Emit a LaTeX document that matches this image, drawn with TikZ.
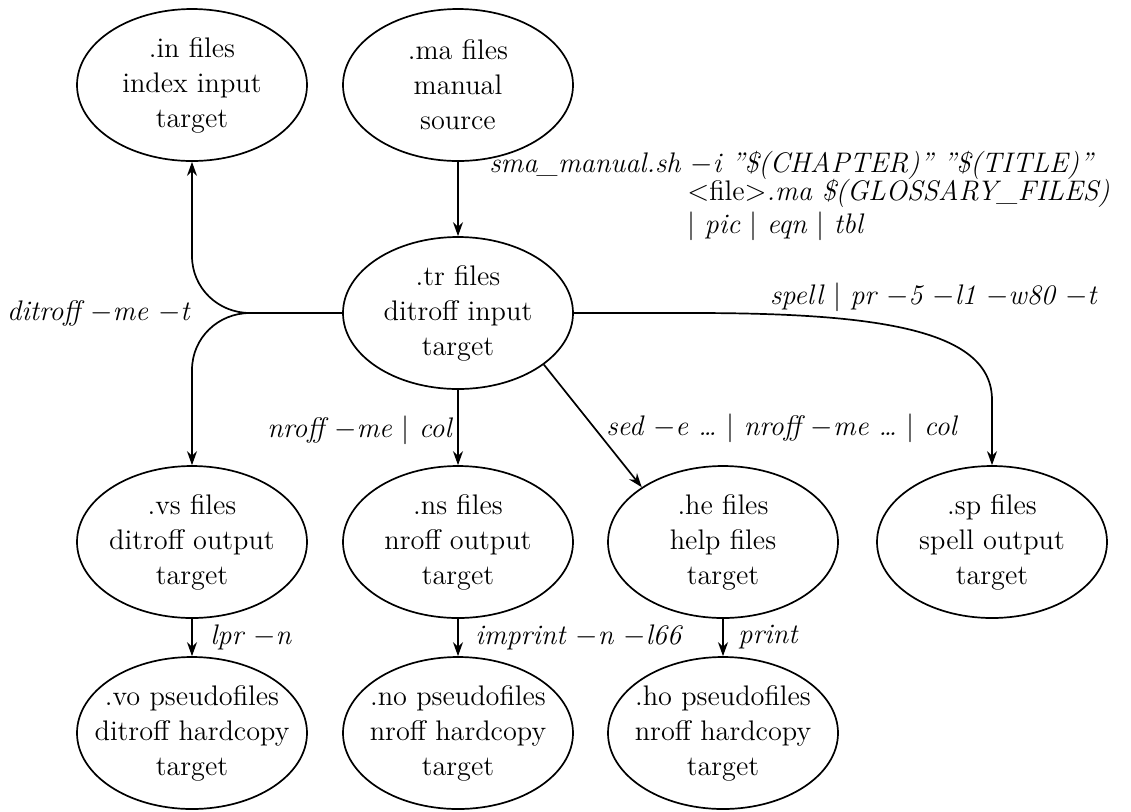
\documentclass[tikz,border=0pt]{standalone}
\usetikzlibrary{shapes.geometric,arrows.meta}
\newcommand\dfnodefont{\fontsize{14.15}{17.5}\selectfont}
\newcommand\dflabfont{\fontsize{14.15}{15.5}\selectfont\itshape}
\begin{document}
\begin{tikzpicture}[x=0.5pt,y=-0.5pt,
  file/.style={ellipse, draw, line width=0.85pt, minimum width=115pt, minimum height=76pt,
    inner sep=-30pt, align=center, font=\dfnodefont},
  arr/.style={-{Stealth[length=7pt,width=5pt]}, line width=0.85pt},
  conn/.style={line width=0.85pt},
  lab/.style={font=\dflabfont, inner sep=0pt}]
\useasboundingbox (0,0) rectangle (1131,811);
% nodes
\node[file] (in) at (192,85)  {.in files\\index input\\target};
\node[file] (ma) at (458,85)  {.ma files\\manual\\source};
\node[file] (tr) at (458,313) {.tr files\\ditroff input\\target};
\node[file] (vs) at (192,542) {.vs files\\ditroff output\\target};
\node[file] (ns) at (458,542) {.ns files\\nroff output\\target};
\node[file] (he) at (723,542) {.he files\\help files\\target};
\node[file] (sp) at (992,542) {.sp files\\spell output\\target};
\node[file] (vo) at (192,733) {.vo pseudofiles\\ditroff hardcopy\\target};
\node[file] (no) at (458,733) {.no pseudofiles\\nroff hardcopy\\target};
\node[file] (ho) at (723,733) {.ho pseudofiles\\nroff hardcopy\\target};
% helper coordinates
\coordinate (J) at (250,313);
\coordinate (Ju) at (192,256);
\coordinate (Jd) at (192,370);
\coordinate (S1) at (693,313);
\coordinate (S2) at (992,400);
% connectors
\draw[arr] (ma.south) -- (tr.north);
\draw[conn] (tr.west) -- (J);
\draw[arr] (J) .. controls +(-32,0) and +(0,32) .. (Ju) -- (in.south);
\draw[arr] (J) .. controls +(-32,0) and +(0,-32) .. (Jd) -- (vs.north);
\draw[arr] (tr.south) -- (ns.north);
\draw[arr] (tr.-31) -- (he.146);
\draw[arr] (tr.east) -- (S1) .. controls (880,313) and (992,330) .. (S2) -- (sp.north);
\draw[arr] (vs.south) -- (vo.north);
\draw[arr] (ns.south) -- (no.north);
\draw[arr] (he.south) -- (ho.north);
% labels
\node[lab, anchor=east] (l1) at (190,313) {ditroff $-$me $-$t};
\node[lab, anchor=east] (l2) at (452,430) {nroff $-$me \upshape$\vert$ \itshape col};
\node[lab, anchor=west] (l3) at (606,428) {sed $-$e \ldots\ \upshape$\vert$ \itshape nroff $-$me \ldots\ \upshape$\vert$ \itshape col};
\node[lab, anchor=east] (l4) at (1097,297) {spell \upshape$\vert$ \itshape pr $-$5 $-$l1 $-$w80 $-$t};
\node[lab, anchor=west] (l5) at (210,637) {lpr $-$n};
\node[lab, anchor=west] (l6) at (475,637) {imprint $-$n $-$l66};
\node[lab, anchor=west] (l7) at (738,637) {print};
\node[lab, anchor=west] (m1) at (489,165) {sma\_manual.sh $-$i "\$(CHAPTER)" "\$(TITLE)"};
\node[lab, anchor=west] (m2) at (687,193) {\upshape$<$file$>$\itshape.ma \$(GLOSSARY\_FILES)};
\node[lab, anchor=west] (m3) at (687,226) {\upshape$\vert$ \itshape pic \upshape$\vert$ \itshape eqn \upshape$\vert$ \itshape tbl};
\end{tikzpicture}
\end{document}
